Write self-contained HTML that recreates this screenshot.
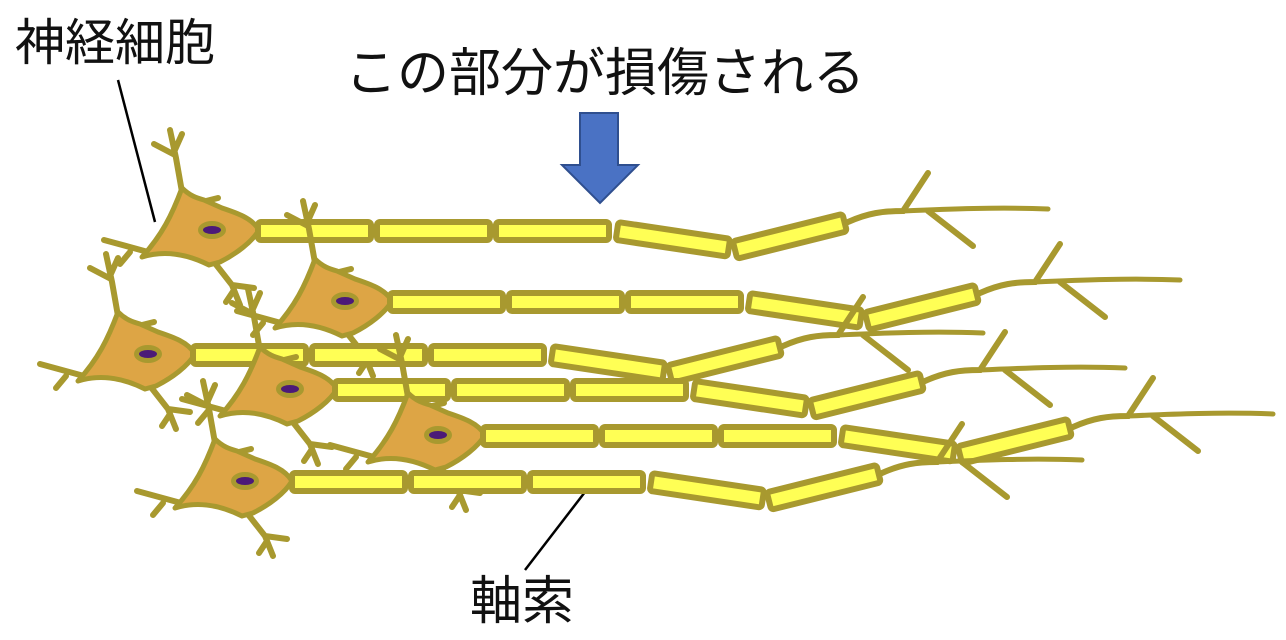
<!DOCTYPE html>
<html><head><meta charset="utf-8"><style>
html,body{margin:0;padding:0;background:#fff;width:1286px;height:640px;overflow:hidden}
.t{position:absolute;font-family:"Liberation Sans","Noto Sans CJK JP",sans-serif;color:#111;white-space:nowrap;line-height:1}
</style></head><body>
<svg width="1286" height="640" style="position:absolute;left:0;top:0">
<defs>
<g id="n">
 <g fill="none" stroke="#A8992F" stroke-width="6" stroke-linecap="round">
  <path d="M-30,-38 L-36,-72 L-42,-100 M-37,-75 L-58,-86 M-38,-78 L-30,-96"/>
  <path d="M-10,-28 L6,-32"/>
  <path d="M-64,22 L-108,10 M-82,22 L-92,34"/>
  <path d="M2,32 L20,55 L28,75 M20,55 L42,58 M22,60 L14,72"/>
 </g>
 <path d="M47,0 C40,-12 25,-17 10,-22 L-8,-30 C-15,-32 -22,-34 -30,-42 C-40,-15 -50,5 -70,27 C-48,20 -25,24 -3,35 L8,32 C24,24 40,12 47,0 Z" fill="#DDA545" stroke="#A8992F" stroke-width="5" stroke-linejoin="round"/>
 <ellipse rx="14" ry="9" fill="#A8992F"/>
 <ellipse rx="9" ry="4" fill="#4B1A78"/>
</g>
<rect id="s" x="0" y="-9" width="113" height="18" rx="3" fill="#FFFF55" stroke="#A8992F" stroke-width="6"/>
<g id="row">
 <g fill="none" stroke="#A8992F" stroke-linecap="round">
  <path d="M590,-9 C610,-18 625,-20 645,-20 L670,-58 M670,-20 L715,15" stroke-width="6"/>
  <path d="M645,-20 C690,-22 740,-24 790,-22" stroke-width="5"/>
 </g>
 <use href="#s" x="0" y="0"/>
 <use href="#s" x="119" y="0"/>
 <use href="#s" x="238" y="0"/>
 <use href="#s" transform="translate(359,0) rotate(8.5)"/>
 <use href="#s" transform="translate(477,19) rotate(-14)"/>
</g>
</defs>
<line x1="118" y1="80" x2="155" y2="222" stroke="#000" stroke-width="2.5"/>
<line x1="585" y1="492" x2="525" y2="570" stroke="#000" stroke-width="2.5"/>
<path d="M580,113 L618,113 L618,165 L638,165 L600,203 L562,165 L580,165 Z" fill="#4A72C4" stroke="#2F4F8F" stroke-width="2"/>

<use href="#n" x="212" y="230"/>
<use href="#row" x="258" y="231"/>
<use href="#n" x="345" y="301"/>
<use href="#row" x="390" y="302"/>
<use href="#n" x="148" y="354"/>
<use href="#row" x="193" y="355"/>
<use href="#n" x="290" y="389"/>
<use href="#row" x="335" y="390"/>
<use href="#n" x="438" y="435"/>
<use href="#row" x="483" y="436"/>
<use href="#n" x="245" y="481"/>
<use href="#row" x="292" y="482"/>
</svg>
<div class="t" style="left:15px;top:18px;font-size:50px">神経細胞</div>
<div class="t" style="left:345px;top:48px;font-size:52px">この部分が損傷される</div>
<div class="t" style="left:470px;top:576px;font-size:52px">軸索</div>
</body></html>
